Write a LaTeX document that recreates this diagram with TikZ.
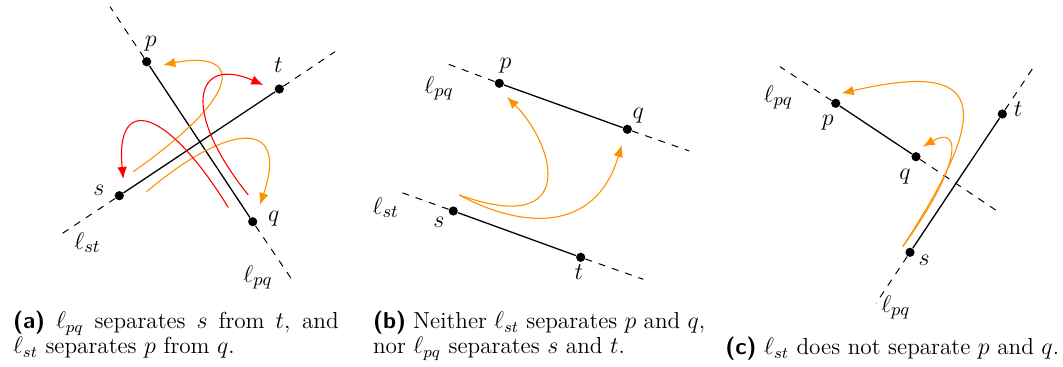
\documentclass[tikz,border=0pt]{standalone}
\usetikzlibrary{arrows.meta}
\definecolor{arrorange}{RGB}{255,145,0}
\begin{document}
\begin{tikzpicture}[x=0.5pt,y=-0.5pt,
  dotnode/.style={circle,fill=black,inner sep=0pt,minimum size=4.6pt},
  seg/.style={line width=0.65pt},
  ext/.style={line width=0.5pt,dash pattern=on 3.5pt off 3.5pt},
  arr/.style={line width=0.55pt,-{Latex[length=6pt,width=4.8pt]}},
  lab/.style={inner sep=0pt,font=\fontsize{12.6}{14}\selectfont},
  captext/.style={inner sep=0pt,anchor=base west,font=\fontsize{11.6}{12.5}\selectfont}]
\useasboundingbox (0,0) rectangle (1063,367);

% ---------- panel (a) ----------
\node[dotnode] (ap) at (146.7,61.7) {};
\node[dotnode] (aq) at (252.7,221.7) {};
\node[dotnode] (as) at (119.3,195.7) {};
\node[dotnode] (at) at (279.3,89) {};
\coordinate (apx) at (110,6.7);
\coordinate (aqx) at (293.3,281.7);
\coordinate (asx) at (60,235);
\coordinate (atx) at (335,51.7);
\draw[ext] (ap) -- (apx);
\draw[ext] (aq) -- (aqx);
\draw[ext] (as) -- (asx);
\draw[ext] (at) -- (atx);
\draw[seg] (ap) -- (aq);
\draw[seg] (as) -- (at);
\node[lab] (lap) at (150.8,43.7) {$p$};
\node[lab] (lat) at (278.3,65) {$t$};
\node[lab] (las) at (98.8,190) {$s$};
\node[lab] (laq) at (273.8,219) {$q$};
\node[lab] (lalst) at (87.5,242.5) {$\ell_{st}$};
\node[lab] (lalpq) at (258,277.5) {$\ell_{pq}$};
\coordinate (ao1s) at (133.3,171.7);
\coordinate (ao1e) at (163.3,65);
\coordinate (ao2s) at (146.7,191.7);
\coordinate (ao2e) at (260,205);
\coordinate (ar1s) at (228.3,207.5);
\coordinate (ar1e) at (123.3,179);
\coordinate (ar2s) at (248.3,195);
\coordinate (ar2e) at (263.3,85);
\draw[arr,arrorange] (ao1s) .. controls (252,88) and (237,50) .. (ao1e);
\draw[arr,arrorange] (ao2s) .. controls (225,125) and (290,115) .. (ao2e);
\draw[arr,red] (ar1s) .. controls (165,105) and (115,95) .. (ar1e);
\draw[arr,red] (ar2s) .. controls (180,110) and (195,55) .. (ar2e);

% ---------- panel (b) ----------
\node[dotnode] (bp) at (499.3,83.3) {};
\node[dotnode] (bq) at (627.3,129.3) {};
\node[dotnode] (bs) at (453.3,211) {};
\node[dotnode] (bt) at (580.7,257.3) {};
\coordinate (bpx) at (446,63.3);
\coordinate (bqx) at (689.3,151);
\coordinate (bsx) at (399.3,191.7);
\coordinate (btx) at (643.3,279.3);
\draw[ext] (bp) -- (bpx);
\draw[ext] (bq) -- (bqx);
\draw[ext] (bs) -- (bsx);
\draw[ext] (bt) -- (btx);
\draw[seg] (bp) -- (bq);
\draw[seg] (bs) -- (bt);
\node[lab] (lbp) at (505.5,66) {$p$};
\node[lab] (lbq) at (638.3,116) {$q$};
\node[lab] (lbs) at (438.8,222.5) {$s$};
\node[lab] (lbt) at (578.8,272.5) {$t$};
\node[lab] (lblpq) at (439,88.3) {$\ell_{pq}$};
\node[lab] (lblst) at (385.8,207.5) {$\ell_{st}$};
\coordinate (bos) at (459.3,195);
\coordinate (bo1e) at (507,97);
\coordinate (bo2e) at (621.7,145);
\draw[arr,arrorange] (bos) .. controls (580,238) and (555,145) .. (bo1e);
\draw[arr,arrorange] (bos) .. controls (520,228) and (595,235) .. (bo2e);

% ---------- panel (c) ----------
\node[dotnode] (cp) at (835.7,103.3) {};
\node[dotnode] (cq) at (916,156.7) {};
\node[dotnode] (ct) at (1002.3,114) {};
\node[dotnode] (cs) at (910,252.3) {};
\coordinate (cpx) at (780,66.7);
\coordinate (cqx) at (996.7,210.7);
\coordinate (ctx) at (1032.7,68.3);
\coordinate (csx) at (876,303.3);
\draw[ext] (cp) -- (cpx);
\draw[ext] (cq) -- (cqx);
\draw[ext] (ct) -- (ctx);
\draw[ext] (cs) -- (csx);
\draw[seg] (cp) -- (cq);
\draw[seg] (cs) -- (ct);
\node[lab] (lcp) at (827.7,122.5) {$p$};
\node[lab] (lcq) at (905,176.7) {$q$};
\node[lab] (lct) at (1018,109.2) {$t$};
\node[lab] (lcs) at (924.2,260) {$s$};
\node[lab] (lclpq) at (778.3,97.5) {$\ell_{pq}$};
\node[lab] (lclpq2) at (895.8,307.5) {$\ell_{pq}$};
\coordinate (cos) at (902.7,246.7);
\coordinate (co1e) at (841.7,93.3);
\coordinate (co2e) at (922.7,146.7);
\draw[arr,arrorange] (cos) .. controls (995,105) and (985,60) .. (co1e);
\draw[arr,arrorange] (cos) .. controls (965,160) and (960,125) .. (co2e);

% ---------- captions ----------
\node[captext] (capa1) at (12.7,329) {\makebox[162.8pt][s]{\textsf{\textbf{(a)}} $\ell_{pq}$ separates $s$ from $t$, and}};
\node[captext] (capa2) at (12.7,354) {$\ell_{st}$ separates $p$ from $q$.};
\node[captext] (capb1) at (372.7,329) {\makebox[166pt][s]{\textsf{\textbf{(b)}} Neither $\ell_{st}$ separates $p$ and $q$,}};
\node[captext] (capb2) at (372.7,354) {nor $\ell_{pq}$ separates $s$ and $t$.};
\node[captext] (capc) at (725,355) {\textsf{\textbf{(c)}} $\ell_{st}$ does not separate $p$ and $q$.};
\end{tikzpicture}
\end{document}
